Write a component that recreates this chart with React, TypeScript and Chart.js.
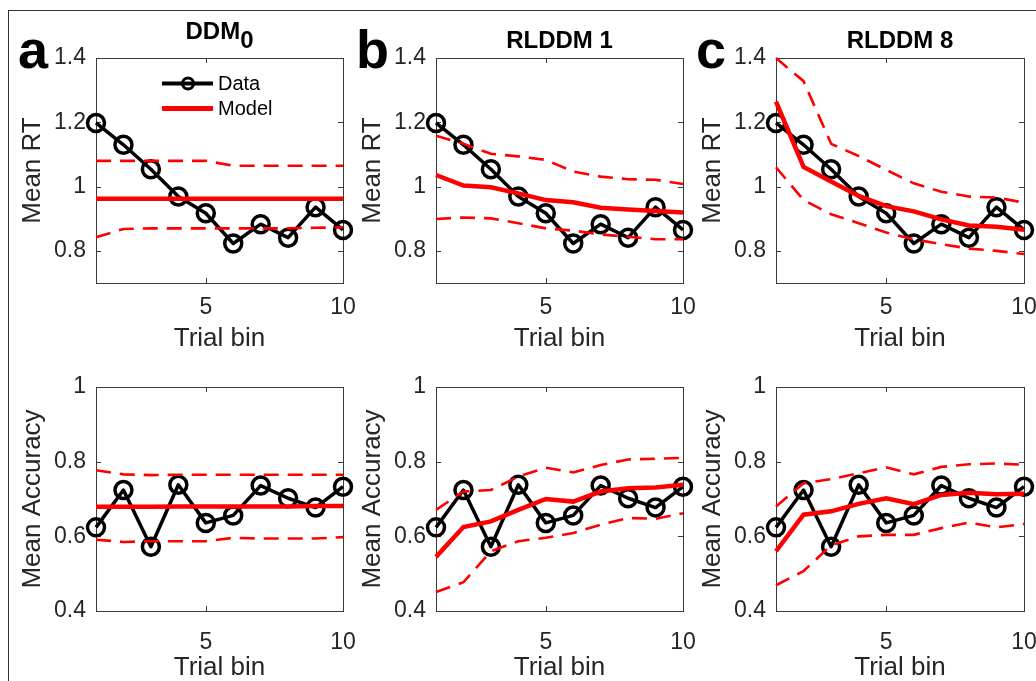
import React, { useEffect, useRef } from "react";
import { Chart, registerables } from "chart.js";

Chart.register(...registerables);

// ---------------- data ----------------
const bins = [1, 2, 3, 4, 5, 6, 7, 8, 9, 10];
const xTicks = [5, 10];
const rtTicks = [0.8, 1, 1.2, 1.4];
const accTicks = [0.4, 0.6, 0.8, 1];

const dataRT = [1.198, 1.13, 1.054, 0.969, 0.917, 0.823, 0.883, 0.841, 0.936, 0.865];
const dataAcc = [0.624, 0.724, 0.572, 0.738, 0.636, 0.656, 0.736, 0.702, 0.677, 0.733];

const ddm0RtMean = [0.962, 0.962, 0.962, 0.962, 0.962, 0.962, 0.962, 0.962, 0.962, 0.962];
const ddm0RtUpper = [1.08, 1.08, 1.08, 1.08, 1.08, 1.065, 1.065, 1.065, 1.065, 1.065];
const ddm0RtLower = [0.842, 0.868, 0.87, 0.87, 0.87, 0.87, 0.87, 0.87, 0.872, 0.873];
const ddm0AccMean = [0.679, 0.679, 0.679, 0.68, 0.68, 0.68, 0.68, 0.68, 0.681, 0.681];
const ddm0AccUpper = [0.777, 0.766, 0.764, 0.765, 0.765, 0.765, 0.765, 0.765, 0.765, 0.765];
const ddm0AccLower = [0.591, 0.585, 0.587, 0.587, 0.587, 0.596, 0.594, 0.594, 0.594, 0.598];

const rl1RtMean = [1.036, 1.003, 0.998, 0.979, 0.958, 0.951, 0.934, 0.929, 0.924, 0.919];
const rl1RtUpper = [1.158, 1.133, 1.102, 1.094, 1.083, 1.047, 1.031, 1.023, 1.021, 1.008];
const rl1RtLower = [0.899, 0.904, 0.901, 0.886, 0.87, 0.863, 0.851, 0.844, 0.836, 0.836];
const rl1AccMean = [0.545, 0.625, 0.64, 0.671, 0.7, 0.693, 0.72, 0.729, 0.731, 0.738];
const rl1AccUpper = [0.671, 0.72, 0.724, 0.76, 0.784, 0.771, 0.791, 0.806, 0.808, 0.81];
const rl1AccLower = [0.451, 0.477, 0.56, 0.587, 0.596, 0.609, 0.631, 0.649, 0.647, 0.662];

const rl8RtMean = [1.264, 1.061, 1.016, 0.971, 0.939, 0.923, 0.898, 0.879, 0.875, 0.866];
const rl8RtUpper = [1.4, 1.328, 1.133, 1.095, 1.052, 1.01, 0.984, 0.969, 0.966, 0.95];
const rl8RtLower = [1.06, 0.958, 0.914, 0.886, 0.857, 0.836, 0.821, 0.807, 0.8, 0.79];
const rl8AccMean = [0.56, 0.658, 0.667, 0.687, 0.702, 0.686, 0.711, 0.717, 0.713, 0.714];
const rl8AccUpper = [0.68, 0.742, 0.753, 0.769, 0.785, 0.766, 0.786, 0.793, 0.795, 0.792];
const rl8AccLower = [0.469, 0.507, 0.576, 0.6, 0.604, 0.604, 0.622, 0.637, 0.624, 0.633];

const panelTitles = ["DDM", "RLDDM 1", "RLDDM 8"];
const panelLetters = ["a", "b", "c"];
const legendLabels = ["Data", "Model"];

// ---------------- layout / style ----------------
const W = 1036;
const H = 681;
const CW = 1100;
const CH = 700;
const FONT = "'Liberation Sans', Arial, Helvetica, sans-serif";
const TEXT = "#262626";
const AXIS = "#3a3a3a";
const RED = "#ff0000";

const colLeft = [96, 436, 776];
const colRight = [343, 683, 1024];
const rowTop = [58, 387];
const rowBottom = [283, 611];
const rowXTickPad = [11, 18];
const rowXAxisH = [71, 72];
const Y_AXIS_W = 79;

type PanelCfg = {
  col: number;
  row: number;
  data: number[];
  mean: number[];
  upper: number[];
  lower: number[];
  yMin: number;
  yMax: number;
  yTicks: number[];
  yTitle: string;
};

const panels: PanelCfg[] = [
  { col: 0, row: 0, data: dataRT, mean: ddm0RtMean, upper: ddm0RtUpper, lower: ddm0RtLower, yMin: 0.7, yMax: 1.4, yTicks: rtTicks, yTitle: "Mean RT" },
  { col: 1, row: 0, data: dataRT, mean: rl1RtMean, upper: rl1RtUpper, lower: rl1RtLower, yMin: 0.7, yMax: 1.4, yTicks: rtTicks, yTitle: "Mean RT" },
  { col: 2, row: 0, data: dataRT, mean: rl8RtMean, upper: rl8RtUpper, lower: rl8RtLower, yMin: 0.7, yMax: 1.4, yTicks: rtTicks, yTitle: "Mean RT" },
  { col: 0, row: 1, data: dataAcc, mean: ddm0AccMean, upper: ddm0AccUpper, lower: ddm0AccLower, yMin: 0.4, yMax: 1.0, yTicks: accTicks, yTitle: "Mean Accuracy" },
  { col: 1, row: 1, data: dataAcc, mean: rl1AccMean, upper: rl1AccUpper, lower: rl1AccLower, yMin: 0.4, yMax: 1.0, yTicks: accTicks, yTitle: "Mean Accuracy" },
  { col: 2, row: 1, data: dataAcc, mean: rl8AccMean, upper: rl8AccUpper, lower: rl8AccLower, yMin: 0.4, yMax: 1.0, yTicks: accTicks, yTitle: "Mean Accuracy" },
];

const pts = (vals: number[]) => bins.map((b, i) => ({ x: b, y: vals[i] }));

const boxPlugin = {
  id: "matlabBox",
  beforeDatasetsDraw(chart: any) {
    const { ctx, chartArea } = chart;
    const { left, right, top, bottom } = chartArea;
    const xs = chart.scales.x;
    const ys = chart.scales.y;
    const L = 5;
    ctx.save();
    ctx.strokeStyle = AXIS;
    ctx.lineWidth = 1;
    ctx.strokeRect(left + 0.5, top + 0.5, right - left, bottom - top);
    ctx.beginPath();
    xs.ticks.forEach((t: any) => {
      const px = Math.round(xs.getPixelForValue(t.value)) + 0.5;
      ctx.moveTo(px, bottom);
      ctx.lineTo(px, bottom - L);
      ctx.moveTo(px, top);
      ctx.lineTo(px, top + L);
    });
    ys.ticks.forEach((t: any) => {
      const py = Math.round(ys.getPixelForValue(t.value)) + 0.5;
      ctx.moveTo(left, py);
      ctx.lineTo(left + L, py);
      ctx.moveTo(right, py);
      ctx.lineTo(right - L, py);
    });
    ctx.stroke();
    ctx.restore();
  },
};

function PanelChart({ cfg }: { cfg: PanelCfg }) {
  const ref = useRef<HTMLCanvasElement | null>(null);
  useEffect(() => {
    if (!ref.current) return;
    const pl = colLeft[cfg.col];
    const pr = colRight[cfg.col];
    const pt = rowTop[cfg.row];
    const pb = rowBottom[cfg.row];
    const xh = rowXAxisH[cfg.row];
    const chart = new Chart(ref.current, {
      type: "line",
      data: {
        datasets: [
          { label: "Model", data: pts(cfg.mean), borderColor: RED, borderWidth: 4.5, pointRadius: 0, tension: 0, clip: false as any, order: 0 },
          { label: "Upper", data: pts(cfg.upper), borderColor: RED, borderWidth: 2.6, borderDash: [15, 9], pointRadius: 0, tension: 0, clip: false as any, order: 1 },
          { label: "Lower", data: pts(cfg.lower), borderColor: RED, borderWidth: 2.6, borderDash: [15, 9], pointRadius: 0, tension: 0, clip: false as any, order: 2 },
          {
            label: "Data",
            data: pts(cfg.data),
            borderColor: "#000000",
            borderWidth: 3.5,
            borderJoinStyle: "round",
            pointRadius: 8.5,
            pointBorderWidth: 3.5,
            pointBorderColor: "#000000",
            pointBackgroundColor: "rgba(0,0,0,0)",
            tension: 0,
            clip: false as any,
            order: 3,
          },
        ],
      },
      options: {
        animation: false,
        responsive: false,
        devicePixelRatio: 1,
        events: [],
        layout: {
          padding: {
            left: pl - Y_AXIS_W,
            right: CW - pr,
            top: pt,
            bottom: CH - pb - xh,
          },
        },
        plugins: {
          legend: { display: false },
          tooltip: { enabled: false },
          title: { display: false },
        },
        scales: {
          x: {
            type: "linear",
            min: 1,
            max: 10,
            grid: { display: false, drawTicks: false },
            border: { display: false },
            afterBuildTicks: (s: any) => {
              s.ticks = xTicks.map((v) => ({ value: v }));
            },
            afterFit: (s: any) => {
              s.height = xh;
            },
            ticks: {
              autoSkip: false,
              maxRotation: 0,
              padding: rowXTickPad[cfg.row],
              color: TEXT,
              font: { family: FONT, size: 23 },
              callback: (v: any) => String(v),
            },
            title: {
              display: true,
              text: "Trial bin",
              color: TEXT,
              padding: 0,
              font: { family: FONT, size: 26 },
            },
          },
          y: {
            type: "linear",
            min: cfg.yMin,
            max: cfg.yMax,
            grid: { display: false, drawTicks: false },
            border: { display: false },
            afterBuildTicks: (s: any) => {
              s.ticks = cfg.yTicks.map((v) => ({ value: v }));
            },
            afterFit: (s: any) => {
              s.width = Y_AXIS_W;
            },
            ticks: {
              autoSkip: false,
              padding: 10,
              color: TEXT,
              font: { family: FONT, size: 23 },
              callback: (v: any) => String(v),
            },
            title: {
              display: true,
              text: cfg.yTitle,
              color: TEXT,
              padding: 0,
              font: { family: FONT, size: 26 },
            },
          },
        },
      },
      plugins: [boxPlugin],
    });
    return () => chart.destroy();
  }, [cfg]);
  return (
    <canvas
      ref={ref}
      width={CW}
      height={CH}
      style={{ position: "absolute", left: 0, top: 0, width: CW, height: CH }}
    />
  );
}

function textTop(baseline: number, fs: number) {
  return baseline - 0.8465 * fs;
}

export default function App() {
  const letterLefts = [18, 356, 696];
  const titleFs = 24;
  const legendFs = 20;
  return (
    <div
      style={{
        position: "fixed",
        left: 0,
        top: 0,
        width: W,
        height: H,
        overflow: "hidden",
        background: "#ffffff",
        fontFamily: FONT,
        color: TEXT,
      }}
    >
      <div
        style={{
          position: "absolute",
          left: 8,
          top: 10,
          width: 1200,
          height: 900,
          border: "1px solid #333333",
        }}
      />
      {panels.map((p, i) => (
        <PanelChart key={i} cfg={p} />
      ))}
      {panelLetters.map((l, i) => (
        <div
          key={l}
          style={{
            position: "absolute",
            left: letterLefts[i],
            top: textTop(68, 54),
            fontSize: 54,
            lineHeight: 1,
            fontWeight: "bold",
            color: "#000",
            whiteSpace: "nowrap",
          }}
        >
          {l}
        </div>
      ))}
      {panelTitles.map((t, i) => {
        const cx = (colLeft[i] + colRight[i]) / 2;
        return (
          <div
            key={t}
            style={{
              position: "absolute",
              left: cx - 150,
              width: 300,
              textAlign: "center",
              top: textTop(48.3, titleFs),
              fontSize: titleFs,
              lineHeight: 1,
              fontWeight: "bold",
              color: "#000",
              whiteSpace: "nowrap",
            }}
          >
            {i === 0 ? (
              <>
                <span style={{ position: "relative", top: -9 }}>{t}</span>
                <span>0</span>
              </>
            ) : (
              t
            )}
          </div>
        );
      })}
      <svg
        width={W}
        height={H}
        style={{ position: "absolute", left: 0, top: 0, pointerEvents: "none" }}
      >
        <line x1={162} y1={83.5} x2={213} y2={83.5} stroke="#000" strokeWidth={4} />
        <circle cx={188} cy={83.5} r={5.5} fill="none" stroke="#000" strokeWidth={3} />
        <line x1={162} y1={108.5} x2={213} y2={108.5} stroke={RED} strokeWidth={5} />
      </svg>
      {legendLabels.map((l, i) => (
        <div
          key={l}
          style={{
            position: "absolute",
            left: 218,
            top: textTop(90 + i * 25, legendFs),
            fontSize: legendFs,
            lineHeight: 1,
            color: "#000",
            whiteSpace: "nowrap",
          }}
        >
          {l}
        </div>
      ))}
    </div>
  );
}
